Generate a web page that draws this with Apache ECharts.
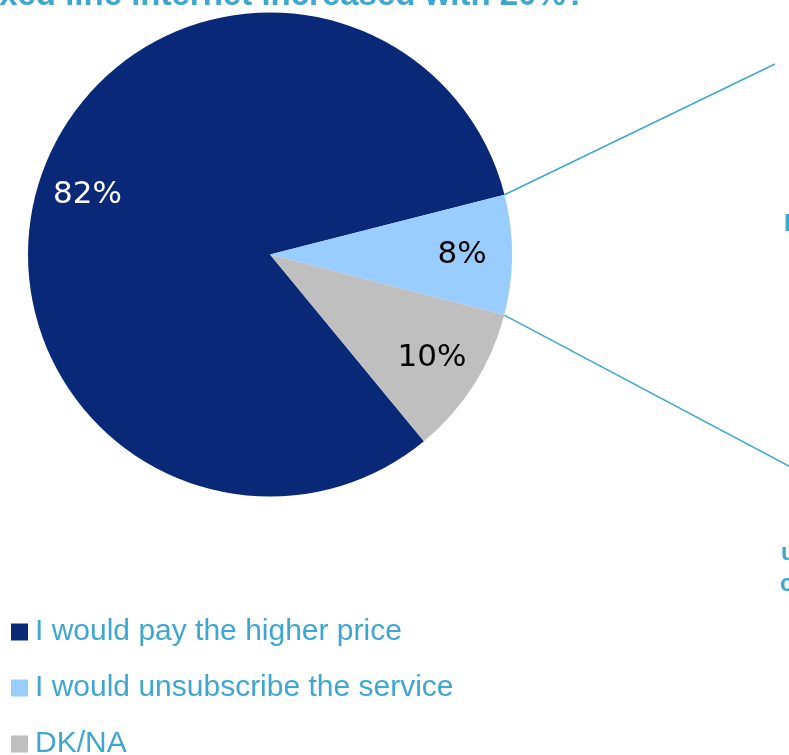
<!DOCTYPE html>
<html>
<head>
<meta charset="utf-8">
<script src="https://cdn.jsdelivr.net/npm/echarts@6/dist/echarts.min.js"></script>
<style>
  html, body { margin: 0; padding: 0; background: #ffffff; }
  #chart { width: 789px; height: 755px; }
</style>
</head>
<body>
<div id="chart"></div>
<script>
// Survey answers: reaction to a 20% price rise of fixed line internet
const categories = ['I would pay the higher price', 'I would unsubscribe the service', 'DK/NA'];
const shares = [82, 8, 10];
const sliceColors = ['#0A2878', '#99CCFF', '#BFBFBF'];
const labelColors = ['#FFFFFF', '#000000', '#000000'];

const titleText = 'What would you do if the price of fixed line internet increased with 20%?';
const sideTexts = ['I', 'unsubscribe', 'cost'];

const accent = '#3FA7CF';
const pieCenter = [270, 254.5];
const pieRadius = 242;
const startAngle = 309.5;

const chart = echarts.init(document.getElementById('chart'), null, { renderer: 'canvas' });

// Points on the rim where the "unsubscribe" slice begins and ends
const total = shares.reduce((a, b) => a + b, 0);
function rimPoint(angleDeg) {
  const a = angleDeg * Math.PI / 180;
  return [pieCenter[0] + pieRadius * Math.cos(a), pieCenter[1] - pieRadius * Math.sin(a)];
}
const edgeTop = rimPoint(startAngle - 360 * shares[0] / total);
const edgeBottom = rimPoint(startAngle - 360 * (shares[0] + shares[1]) / total);

const pieData = categories.map((name, i) => ({
  name,
  value: shares[i],
  itemStyle: { color: sliceColors[i] }
}));

const labelData = categories.map((name, i) => ({
  name,
  value: shares[i],
  label: { color: labelColors[i] }
}));

chart.setOption({
  animation: false,
  legend: {
    orient: 'vertical',
    left: 11,
    top: 617,
    height: 200,
    padding: 0,
    icon: 'rect',
    itemWidth: 17,
    itemHeight: 17,
    itemGap: 26,
    selectedMode: false,
    data: categories,
    textStyle: {
      fontFamily: 'Liberation Sans',
      fontSize: 30,
      color: accent,
      padding: [0, 0, 0, 2]
    }
  },
  series: [
    {
      type: 'pie',
      center: pieCenter,
      radius: [0, pieRadius],
      startAngle: startAngle,
      clockwise: true,
      silent: true,
      label: { show: false },
      labelLine: { show: false },
      itemStyle: { borderWidth: 0 },
      emphasis: { disabled: true },
      data: pieData
    },
    {
      // transparent ring that only carries the percentage labels
      type: 'pie',
      center: pieCenter,
      radius: [136, pieRadius],
      startAngle: startAngle,
      clockwise: true,
      silent: true,
      itemStyle: { color: 'rgba(0,0,0,0)', borderWidth: 0 },
      emphasis: { disabled: true },
      labelLine: { show: false },
      label: {
        show: true,
        position: 'inside',
        formatter: '{c}%',
        fontFamily: 'DejaVu Sans',
        fontSize: 31
      },
      data: labelData
    }
  ],
  graphic: [
    {
      type: 'text',
      x: 586,
      y: 12,
      style: {
        text: titleText,
        fill: accent,
        font: 'bold 33px "Liberation Sans"',
        align: 'right',
        verticalAlign: 'bottom'
      }
    },
    {
      type: 'line',
      shape: { x1: edgeTop[0], y1: edgeTop[1], x2: 775, y2: 64 },
      style: { stroke: accent, lineWidth: 1.5 }
    },
    {
      type: 'line',
      shape: { x1: edgeBottom[0], y1: edgeBottom[1], x2: 800, y2: 472 },
      style: { stroke: accent, lineWidth: 1.5 }
    },
    {
      type: 'text',
      x: 784,
      y: 224,
      style: { text: sideTexts[0], fill: accent, font: 'bold 24px "Liberation Sans"', verticalAlign: 'middle' }
    },
    {
      type: 'text',
      x: 781,
      y: 553,
      style: { text: sideTexts[1], fill: accent, font: 'bold 24px "Liberation Sans"', verticalAlign: 'middle' }
    },
    {
      type: 'text',
      x: 780,
      y: 584,
      style: { text: sideTexts[2], fill: accent, font: 'bold 24px "Liberation Sans"', verticalAlign: 'middle' }
    }
  ]
});
</script>
</body>
</html>
